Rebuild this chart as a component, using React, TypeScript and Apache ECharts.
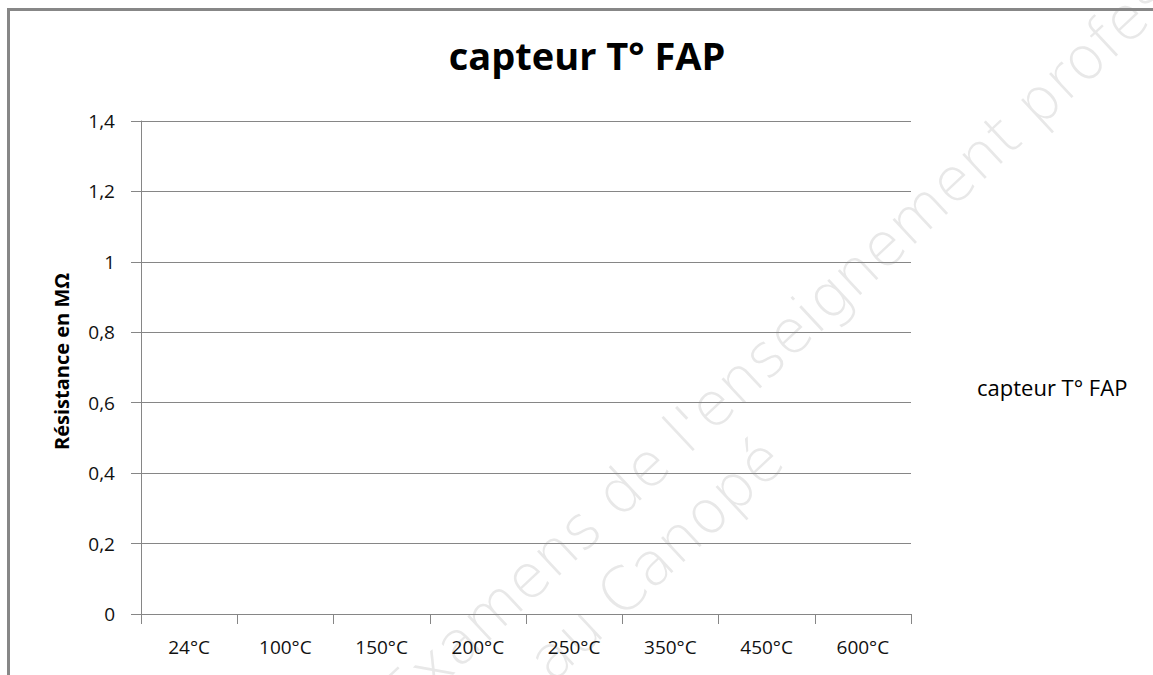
import React, { useEffect, useRef } from "react";
import * as echarts from "echarts";

const chartTitle = "capteur T° FAP";
const seriesName = "capteur T° FAP";
const yAxisName = "Résistance en MΩ";
const categories = ["24°C", "100°C", "150°C", "200°C", "250°C", "350°C", "450°C", "600°C"];
const resistance: (number | null)[] = [null, null, null, null, null, null, null, null];
const yMin = 0;
const yMax = 1.4;
const yStep = 0.2;
const watermark1 = "Examens de l'enseignement professionnel";
const watermark2 = "au Canopé";

const FONT = "'Open Sans', 'Noto Sans', sans-serif";
const WM_FONT = "'DejaVu Sans', sans-serif";
const WM_ROT = (43 * Math.PI) / 180;

export default function App() {
  const ref = useRef<HTMLDivElement>(null);
  useEffect(() => {
    if (!ref.current) return;
    const chart = echarts.init(ref.current, null, { renderer: "svg" });
    chart.setOption({
      animation: false,
      backgroundColor: "#ffffff",
      title: {
        text: chartTitle,
        left: 582,
        textAlign: "center",
        top: 31,
        textStyle: { fontFamily: FONT, fontSize: 38, fontWeight: "bold", color: "#000" },
      },
      legend: {
        data: [seriesName],
        left: 967,
        top: 371,
        orient: "vertical",
        itemWidth: 0,
        itemHeight: 0,
        icon: "rect",
        textStyle: { fontFamily: FONT, fontSize: 22, color: "#000" },
      },
      grid: { left: 141, right: 242, top: 121, bottom: 61, containLabel: false },
      xAxis: {
        type: "category",
        data: categories,
        boundaryGap: true,
        axisLine: { lineStyle: { color: "#868686", width: 1 } },
        axisTick: { show: true, length: 10, lineStyle: { color: "#868686" } },
        axisLabel: { fontFamily: FONT, fontSize: 19, color: "#111", margin: 23 },
      },
      yAxis: {
        type: "value",
        min: yMin,
        max: yMax,
        interval: yStep,
        name: yAxisName,
        nameLocation: "middle",
        nameGap: 70,
        nameTextStyle: { fontFamily: FONT, fontSize: 20, fontWeight: "bold", color: "#000", padding: [0, 0, 0, 12] },
        axisLine: { show: true, lineStyle: { color: "#868686", width: 1 } },
        axisTick: { show: true, length: 10, lineStyle: { color: "#868686" } },
        splitLine: { show: true, lineStyle: { color: "#868686", width: 1 } },
        axisLabel: {
          fontFamily: FONT,
          fontSize: 19,
          color: "#111",
          margin: 26,
          formatter: (v: number) => (Math.round(v * 10) / 10).toString().replace(".", ","),
        },
      },
      series: [
        {
          name: seriesName,
          type: "line",
          data: resistance,
          showSymbol: false,
          lineStyle: { color: "#4a7ebb", width: 2 },
          itemStyle: { color: "#4a7ebb" },
        },
      ],
      graphic: [
        {
          type: "line",
          shape: { x1: 8.5, y1: 8, x2: 8.5, y2: 680 },
          style: { stroke: "#878787", lineWidth: 3 },
          silent: true,
        },
        {
          type: "line",
          shape: { x1: 7, y1: 9.5, x2: 1160, y2: 9.5 },
          style: { stroke: "#878787", lineWidth: 3 },
          silent: true,
        },
        {
          type: "text",
          x: 390,
          y: 705,
          rotation: WM_ROT,
          style: {
            text: watermark1,
            fontFamily: WM_FONT,
            fontSize: 60,
            fontWeight: 200,
            fill: "#e8e8e8",
            align: "left",
            verticalAlign: "middle",
          },
          silent: true,
          z: -1,
        },
        {
          type: "text",
          x: 538,
          y: 669,
          rotation: WM_ROT,
          style: {
            text: watermark2,
            fontFamily: WM_FONT,
            fontSize: 60,
            fontWeight: 200,
            fill: "#e8e8e8",
            align: "left",
            verticalAlign: "middle",
          },
          silent: true,
          z: -1,
        },
      ],
    });
    return () => chart.dispose();
  }, []);
  return (
    <div
      ref={ref}
      style={{ position: "fixed", left: 0, top: 0, width: 1153, height: 675 }}
    />
  );
}
